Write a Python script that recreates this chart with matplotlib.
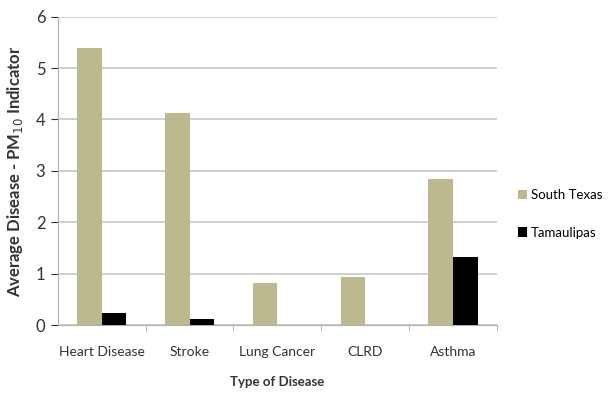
import numpy as np
import matplotlib.pyplot as plt

# datos por tipo de enfermedad
enfermedades = ["Heart Disease", "Stroke", "Lung Cancer", "CLRD", "Asthma"]
south_texas = [5.38, 4.12, 0.81, 0.94, 2.84]
tamaulipas = [0.23, 0.12, 0.0, 0.0, 1.33]

plt.rcParams['font.family'] = ['Lato', 'DejaVu Sans']

fig = plt.figure(figsize=(6.09, 3.95), dpi=100)
ax = fig.add_axes([0.095, 0.177, 0.721, 0.781])

x = np.arange(len(enfermedades))
ancho = 0.28

ax.bar(x - ancho / 2, south_texas, ancho, color="#bdb98f", label="South Texas", zorder=3)
ax.bar(x + ancho / 2, tamaulipas, ancho, color="#000000", label="Tamaulipas", zorder=3)

# ejes y rejilla
ax.set_xlim(-0.5, len(enfermedades) - 0.5)
ax.set_ylim(0, 6)
ax.set_yticks(range(0, 7))
ax.yaxis.grid(True, color="#c8c8c8", linewidth=1.2, zorder=0)
ax.set_axisbelow(True)

for lado in ["top", "right"]:
    ax.spines[lado].set_visible(False)
ax.spines["left"].set_color("#b0b0b0")
ax.spines["bottom"].set_color("#b0b0b0")

ax.set_xticks(x)
ax.set_xticklabels(enfermedades, fontsize=10, color="#333333")
ax.tick_params(axis="x", length=0, pad=15)
ax.set_xticks(np.arange(0.5, len(enfermedades), 1), minor=True)
ax.tick_params(axis="x", which="minor", length=5, color="#b0b0b0")
ax.tick_params(axis="y", labelsize=12, colors="#333333", length=5, pad=4)
for t in ax.yaxis.get_ticklines():
    t.set_color("#b0b0b0")

ax.set_xlabel("Type of Disease", fontsize=9.5, fontweight="bold", color="#333333", labelpad=13)
ax.set_ylabel("Average Disease - PM$_{10}$ Indicator", fontsize=12, fontweight="bold",
              color="#333333", labelpad=8)

ax.legend(loc="center left", bbox_to_anchor=(1.02, 0.36), frameon=False, fontsize=9.5,
          handlelength=0.7, handleheight=0.7, handletextpad=0.3, labelspacing=1.9)

plt.savefig("out.png", dpi=100)
